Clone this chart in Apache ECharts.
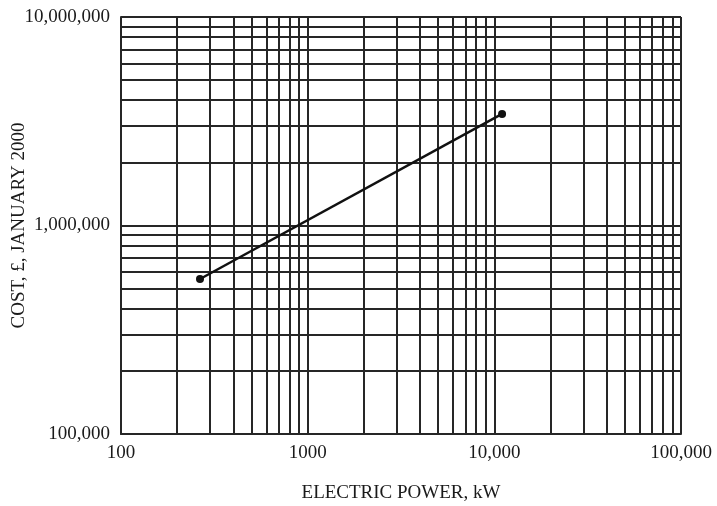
<!DOCTYPE html>
<html>
<head>
<meta charset="utf-8">
<script src="https://cdn.jsdelivr.net/npm/echarts@6/dist/echarts.min.js"></script>
<style>
  html, body { margin: 0; padding: 0; background: #fff; }
  #chart { width: 717px; height: 506px; }
</style>
</head>
<body>
<div id="chart"></div>
<script>
// Cost of plant against electric power (log-log)
const powerKW = [265, 11000];
const costGBP = [554000, 3430000];

const xTicks = [100, 1000, 10000, 100000];
const yTicks = [100000, 1000000, 10000000];
const xTickLabels = ['100', '1000', '10,000', '100,000'];
const yTickLabels = ['100,000', '1,000,000', '10,000,000'];

const minorSteps = [2, 3, 4, 5, 6, 7, 8, 9];

// intermediate grid lines inside each decade
function minorLines(ticks) {
  const out = [];
  for (let i = 0; i < ticks.length - 1; i++) {
    minorSteps.forEach(m => out.push(ticks[i] * m));
  }
  return out;
}

const gridColor = '#262626';
const textColor = '#1a1a1a';
const serif = '"Liberation Serif", "DejaVu Serif", serif';

const chart = echarts.init(document.getElementById('chart'));
chart.setOption({
  backgroundColor: '#fff',
  animation: false,
  grid: { left: 121, right: 36, top: 17, bottom: 72, containLabel: false, outerBoundsMode: 'none' },
  xAxis: {
    type: 'log',
    logBase: 10,
    min: xTicks[0],
    max: xTicks[xTicks.length - 1],
    name: 'ELECTRIC POWER, kW',
    nameLocation: 'middle',
    nameGap: 50,
    nameMoveOverlap: false,
    nameTextStyle: { fontFamily: serif, fontSize: 19, color: textColor },
    axisLine: { show: true, lineStyle: { color: gridColor, width: 2 } },
    axisTick: { show: false },
    axisLabel: {
      fontFamily: serif, fontSize: 19, color: textColor, margin: 10,
      formatter: v => {
        const i = xTicks.indexOf(Math.round(v));
        return i >= 0 ? xTickLabels[i] : '';
      }
    },
    splitLine: { show: true, lineStyle: { color: gridColor, width: 2 } }
  },
  yAxis: {
    type: 'log',
    logBase: 10,
    min: yTicks[0],
    max: yTicks[yTicks.length - 1],
    name: 'COST, £, JANUARY 2000',
    nameLocation: 'middle',
    nameGap: 92,
    nameMoveOverlap: false,
    nameRotate: 90,
    nameTextStyle: { fontFamily: serif, fontSize: 19, color: textColor },
    axisLine: { show: true, lineStyle: { color: gridColor, width: 2 } },
    axisTick: { show: false },
    axisLabel: {
      fontFamily: serif, fontSize: 19, color: textColor, margin: 11,
      formatter: v => {
        const i = yTicks.indexOf(Math.round(v));
        return i >= 0 ? yTickLabels[i] : '';
      }
    },
    splitLine: { show: true, lineStyle: { color: gridColor, width: 2 } }
  },
  series: [
    {
      type: 'line',
      data: [],
      silent: true,
      markLine: {
        silent: true,
        symbol: 'none',
        label: { show: false },
        lineStyle: { type: 'solid', color: gridColor, width: 2 },
        data: minorLines(xTicks).map(v => ({ xAxis: v }))
          .concat(minorLines(yTicks).map(v => ({ yAxis: v })))
      }
    },
    {
      type: 'line',
      data: powerKW.map((p, i) => [p, costGBP[i]]),
      symbol: 'circle',
      symbolSize: 8,
      itemStyle: { color: '#111' },
      lineStyle: { color: '#111', width: 2.5 },
      z: 5
    }
  ]
});
</script>
</body>
</html>
